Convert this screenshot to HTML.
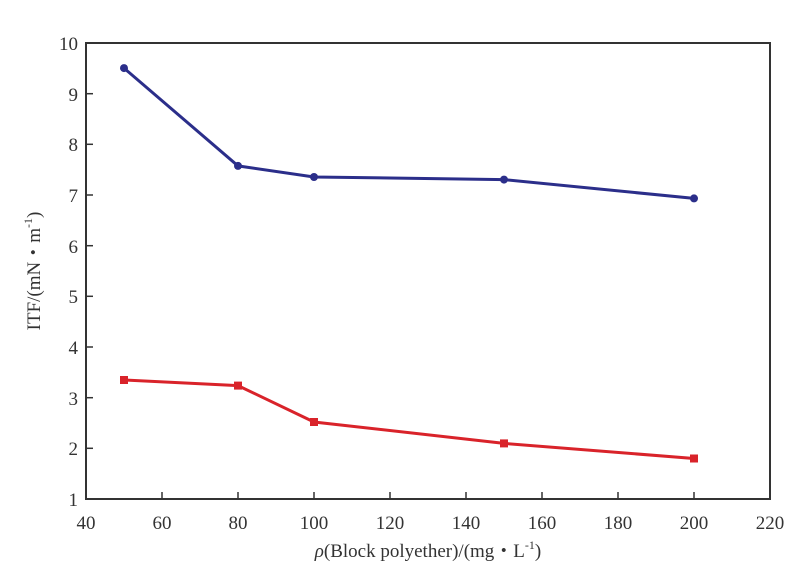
<!DOCTYPE html><html><head><style>body{margin:0;background:#fff}</style></head><body>
<svg width="810" height="572" xmlns="http://www.w3.org/2000/svg" font-family="Liberation Serif, serif" fill="#333">
<rect x="86" y="43" width="684" height="456" fill="none" stroke="#333" stroke-width="2"/>
<g stroke="#333" stroke-width="1.5">
<line x1="86" y1="448.3" x2="93" y2="448.3"/><line x1="86" y1="397.7" x2="93" y2="397.7"/><line x1="86" y1="347" x2="93" y2="347"/><line x1="86" y1="296.3" x2="93" y2="296.3"/><line x1="86" y1="245.7" x2="93" y2="245.7"/><line x1="86" y1="195" x2="93" y2="195"/><line x1="86" y1="144.3" x2="93" y2="144.3"/><line x1="86" y1="93.7" x2="93" y2="93.7"/>
<line x1="162" y1="499" x2="162" y2="492"/><line x1="238" y1="499" x2="238" y2="492"/><line x1="314" y1="499" x2="314" y2="492"/><line x1="390" y1="499" x2="390" y2="492"/><line x1="466" y1="499" x2="466" y2="492"/><line x1="542" y1="499" x2="542" y2="492"/><line x1="618" y1="499" x2="618" y2="492"/><line x1="694" y1="499" x2="694" y2="492"/>
</g>
<g font-size="19" text-anchor="end">
<text x="78" y="506">1</text><text x="78" y="455">2</text><text x="78" y="405">3</text><text x="78" y="354">4</text><text x="78" y="303">5</text><text x="78" y="253">6</text><text x="78" y="202">7</text><text x="78" y="151">8</text><text x="78" y="101">9</text><text x="78" y="50">10</text>
</g>
<g font-size="19" text-anchor="middle">
<text x="86" y="529">40</text><text x="162" y="529">60</text><text x="238" y="529">80</text><text x="314" y="529">100</text><text x="390" y="529">120</text><text x="466" y="529">140</text><text x="542" y="529">160</text><text x="618" y="529">180</text><text x="694" y="529">200</text><text x="770" y="529">220</text>
<text x="428" y="557"><tspan font-style="italic">ρ</tspan>(Block polyether)/(mg・L<tspan font-size="12" dy="-8">-1</tspan><tspan dy="8">)</tspan></text>
</g>
<text transform="translate(40,271) rotate(-90)" font-size="19" text-anchor="middle">ITF/(mN・m<tspan font-size="12" dy="-8">-1</tspan><tspan dy="8">)</tspan></text>
<polyline fill="none" stroke="#2b2e8a" stroke-width="3" points="124,68.1 238,165.9 314,177 504,179.6 694,198.4"/>
<g fill="#2b2e8a"><circle cx="124" cy="68.1" r="4"/><circle cx="238" cy="165.9" r="4"/><circle cx="314" cy="177" r="4"/><circle cx="504" cy="179.6" r="4"/><circle cx="694" cy="198.4" r="4"/></g>
<polyline fill="none" stroke="#d9232a" stroke-width="3" points="124,380 238,385.6 314,422 504,443.4 694,458.5"/>
<g fill="#d9232a"><rect x="120" y="376" width="8" height="8"/><rect x="234" y="381.6" width="8" height="8"/><rect x="310" y="418" width="8" height="8"/><rect x="500" y="439.4" width="8" height="8"/><rect x="690" y="454.5" width="8" height="8"/></g>
</svg></body></html>
